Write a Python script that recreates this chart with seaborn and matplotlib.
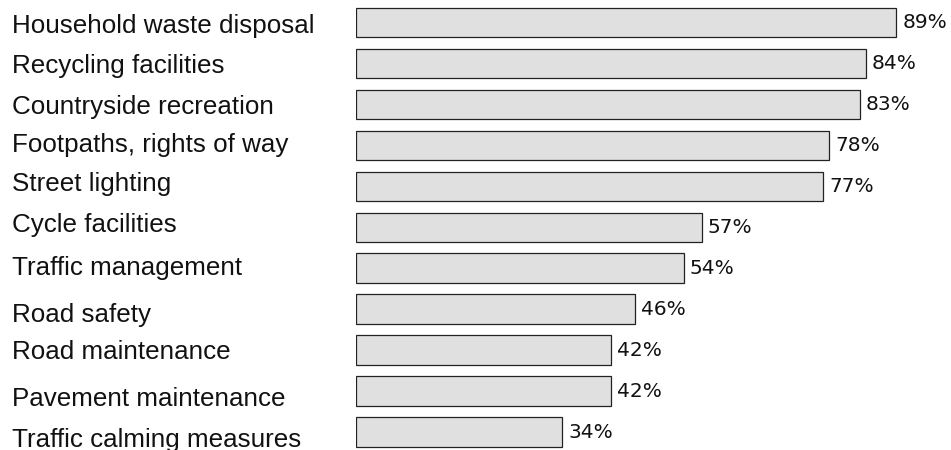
import matplotlib
matplotlib.use("Agg")
import matplotlib.pyplot as plt
import seaborn as sns
import pandas as pd

categories = [
    "Household waste disposal",
    "Recycling facilities",
    "Countryside recreation",
    "Footpaths, rights of way",
    "Street lighting",
    "Cycle facilities",
    "Traffic management",
    "Road safety",
    "Road maintenance",
    "Pavement maintenance",
    "Traffic calming measures",
]
values = [89, 84, 83, 78, 77, 57, 54, 46, 42, 42, 34]
value_labels = [f"{v}%" for v in values]
# baseline drop (pixels below bar centre) of each category label, as in the reference
label_drop = [10.8, 9.8, 10, 6.5, 4.4, 4.7, 7, 12.7, 9.3, 15, 14.7]

sns.set_theme(style="white")
plt.rcParams["font.family"] = ["DejaVu Sans"]

df = pd.DataFrame({"category": categories, "value": values})

fig = plt.figure(figsize=(9.51, 4.5), dpi=100)
W, H = 951, 450
left_px = 356
px_per_unit = 6.07
ax = fig.add_axes([left_px / W, -2.5 / H, 1 - left_px / W, 450.5 / H])

sns.barplot(data=df, y="category", x="value", orient="h", color="#e0e0e0",
            edgecolor="#222222", linewidth=0.9, width=0.72, saturation=1, ax=ax)

ax.set_xlim(0, (W - left_px) / px_per_unit)
ax.set_ylim(len(categories) - 0.5, -0.5)
ax.set_xlabel("")
ax.set_ylabel("")
ax.set_xticks([])
ax.set_yticks([])
for s in ax.spines.values():
    s.set_visible(False)

label_x = -(left_px - 12) / px_per_unit
for i, (cat, drop) in enumerate(zip(categories, label_drop)):
    ax.annotate(cat, xy=(label_x, i), xytext=(0, -drop), textcoords="offset pixels",
                ha="left", va="baseline", fontsize=18.7,
                family=["Liberation Sans", "DejaVu Sans"], color="#111111",
                annotation_clip=False)

for i, (v, lab) in enumerate(zip(values, value_labels)):
    ax.annotate(lab, xy=(v, i), xytext=(6, -5.7), textcoords="offset pixels",
                ha="left", va="baseline", fontsize=14.5, color="#111111",
                family=["DejaVu Sans"])

fig.savefig("out.png", dpi=100)
